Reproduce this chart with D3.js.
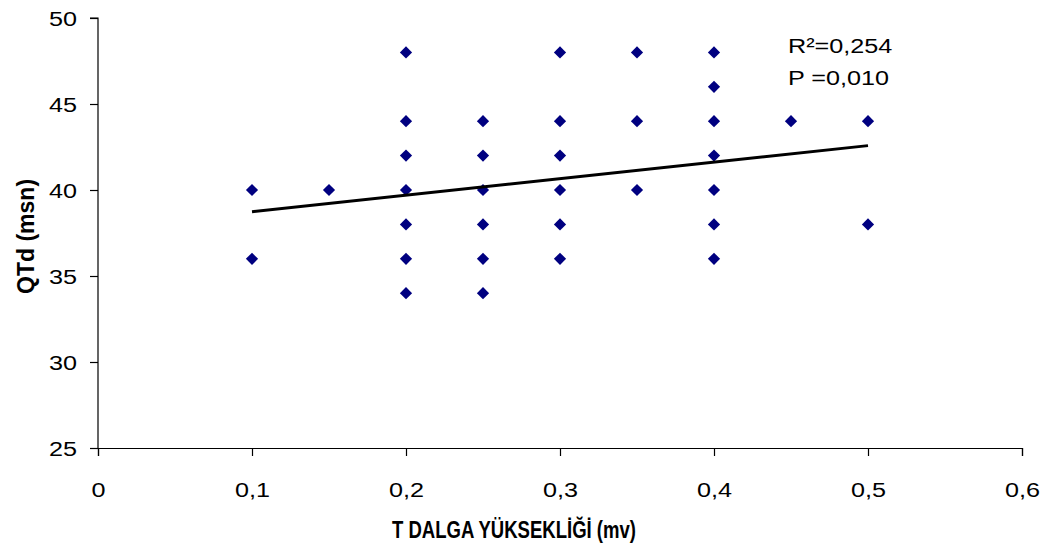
<!DOCTYPE html>
<html>
<head>
<meta charset="utf-8">
<script src="https://cdn.jsdelivr.net/npm/d3@7"></script>
<style>
  body { margin: 0; background: #fff; }
  text { font-family: "Liberation Sans", Arial, sans-serif; }
</style>
</head>
<body>
<div class="canvas"></div>
<script>
const
    width = 1048,
    height = 552,
    stretch = 1.2,   // the source chart's plain text is a bit wide
    fontSize = 21,
    margin = { top: 18, right: 26, bottom: 104, left: 98 };

// T wave height (mV) and QTd (msn)
const tWave = [0.1, 0.1, 0.15,
    0.2, 0.2, 0.2, 0.2, 0.2, 0.2, 0.2,
    0.25, 0.25, 0.25, 0.25, 0.25, 0.25,
    0.3, 0.3, 0.3, 0.3, 0.3, 0.3,
    0.35, 0.35, 0.35,
    0.4, 0.4, 0.4, 0.4, 0.4, 0.4, 0.4,
    0.45,
    0.5, 0.5];
const qtd = [40, 36, 40,
    48, 44, 42, 40, 38, 36, 34,
    44, 42, 40, 38, 36, 34,
    48, 44, 42, 40, 38, 36,
    48, 44, 40,
    48, 46, 44, 42, 40, 38, 36,
    44,
    44, 38];

// trend line ends
const trendX = [0.1, 0.5];
const trendY = [38.74, 42.58];

const xTicks = [0, 0.1, 0.2, 0.3, 0.4, 0.5, 0.6];
const yTicks = [25, 30, 35, 40, 45, 50];
const notes = ["R²=0,254", "P =0,010"];

const svg = d3.select('.canvas').append("svg")
    .attr('width', width)
    .attr('height', height);

const x = d3.scaleLinear()
    .domain([0, 0.6])
    .range([margin.left, width - margin.right]);
const y = d3.scaleLinear()
    .domain([25, 50])
    .range([height - margin.bottom, margin.top]);

const fmt = d => d === 0 ? "0" : d3.format(".1f")(d).replace(".", ",");

const xAxis = svg.append("g")
    .attr("transform", `translate(0,${y(25)})`)
    .call(d3.axisBottom(x).tickValues(xTicks).tickSize(8).tickPadding(26).tickFormat(fmt));
const yAxis = svg.append("g")
    .attr("transform", `translate(${x(0)},0)`)
    .call(d3.axisLeft(y).tickValues(yTicks).tickSize(8).tickPadding(13));

[xAxis, yAxis].forEach(a => {
    a.selectAll("path, line").attr("stroke", "#000").attr("stroke-width", 1.2);
    a.selectAll("text").attr("font-size", fontSize).attr("fill", "#000")
        .style("font-family", '"Liberation Sans", Arial, sans-serif');
});
yAxis.select(".domain").attr("d", `M0,${y(25)}V${y(50)}H-8`);
yAxis.selectAll("text")
    .attr("x", -21 / stretch)
    .attr("dy", "0.35em")
    .attr("transform", `scale(${stretch},1)`);
xAxis.selectAll("text")
    .attr("transform", `scale(${stretch},1)`);

const diamond = d3.symbol().type(d3.symbolDiamond2).size(95);

svg.append("g").selectAll("path")
    .data(tWave)
    .enter()
    .append("path")
    .attr("d", diamond)
    .attr("fill", "#000080")
    .attr("transform", (d, i) => `translate(${x(d)},${y(qtd[i])})`);

svg.append("line")
    .attr("x1", x(trendX[0])).attr("y1", y(trendY[0]))
    .attr("x2", x(trendX[1])).attr("y2", y(trendY[1]))
    .attr("stroke", "#000")
    .attr("stroke-width", 3);

svg.selectAll(".note")
    .data(notes)
    .enter()
    .append("text")
    .attr("class", "note")
    .attr("transform", (d, i) => `translate(788,${52.5 + i * 32}) scale(${stretch},1)`)
    .attr("font-size", fontSize)
    .text(d => d);

svg.append("text")
    .attr("x", 392)
    .attr("y", 538)
    .attr("font-size", 23)
    .attr("font-weight", "bold")
    .attr("textLength", 244)
    .attr("lengthAdjust", "spacingAndGlyphs")
    .text("T DALGA YÜKSEKLİĞİ (mv)");

svg.append("text")
    .attr("transform", `translate(34,${y(37.3)}) rotate(-90)`)
    .attr("text-anchor", "middle")
    .attr("font-size", 23)
    .attr("font-weight", "bold")
    .text("QTd (msn)");
</script>
</body>
</html>
